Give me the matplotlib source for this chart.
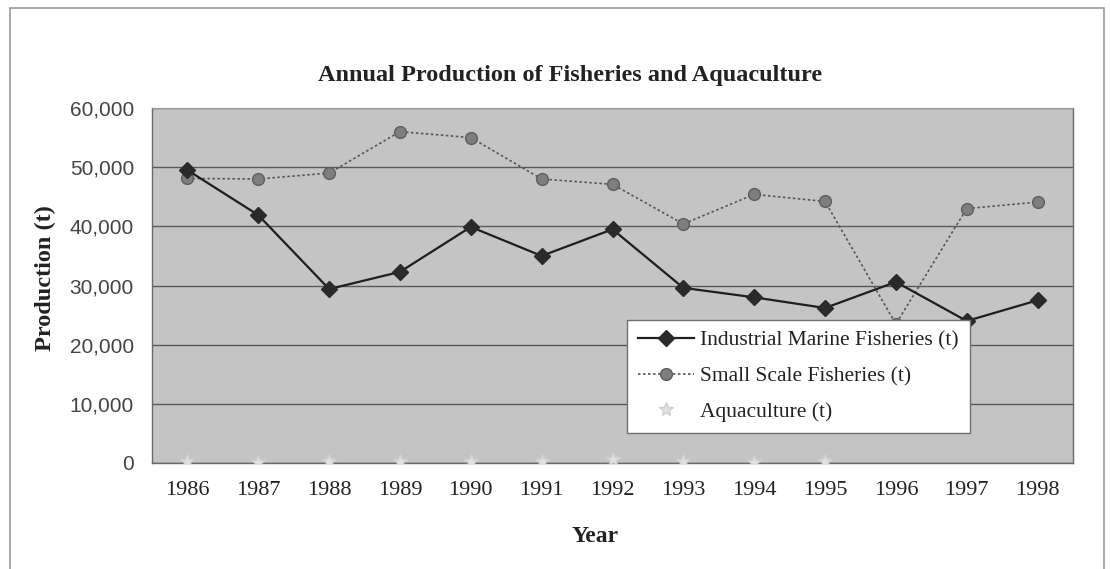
import matplotlib
matplotlib.use("Agg")
import matplotlib.pyplot as plt
import numpy as np
from matplotlib.patches import Rectangle
from matplotlib.ticker import FuncFormatter

years = [1986, 1987, 1988, 1989, 1990, 1991, 1992, 1993, 1994, 1995, 1996, 1997, 1998]
industrial = [49500, 41900, 29400, 32300, 39900, 35000, 39500, 29600, 28000, 26200, 30600, 24000, 27500]
small_scale = [48100, 48000, 49000, 56000, 55000, 48000, 47100, 40400, 45400, 44200, 23500, 43000, 44100]
aquaculture = [300, 200, 300, 400, 400, 300, 600, 300, 200, 300, np.nan, np.nan, np.nan]

serif = "Liberation Serif"

fig = plt.figure(figsize=(11.10, 5.69), dpi=100)
fig.patches.append(Rectangle((10/1110, -0.05), 1094/1110, 1 - 8/569 + 0.05,
                             transform=fig.transFigure, fill=False,
                             edgecolor="#9a9a9a", linewidth=1.2))
ax = fig.add_axes([152/1110, (569-463)/569, 921/1110, 355/569])
ax.set_facecolor("#c4c4c4")
x = np.arange(len(years))

ax.set_xlim(-0.5, len(years) - 0.5)
ax.set_ylim(0, 60000)
ax.set_yticks(np.arange(0, 60001, 10000))
ax.yaxis.set_major_formatter(FuncFormatter(lambda v, p: f"{int(v):,}"))
ax.set_xticks(x)
ax.set_xticklabels([str(y) for y in years])
ax.grid(axis="y", color="#5a5a5a", linewidth=1.0)
ax.set_axisbelow(True)
ax.spines["top"].set_color("#9a9a9a")
ax.spines["top"].set_linestyle((0, (1, 1)))
for s in ["left", "right", "bottom"]:
    ax.spines[s].set_color("#6a6a6a")
    ax.spines[s].set_linewidth(1.0)
ax.tick_params(axis="both", length=0)
ax.tick_params(axis="x", pad=13)
ax.tick_params(axis="y", pad=13)
for lab in ax.get_xticklabels():
    lab.set_fontfamily(serif)
    lab.set_fontsize(16)
    lab.set_color("#222222")
for lab in ax.get_yticklabels():
    lab.set_fontfamily("Liberation Sans")
    lab.set_fontsize(15)
    lab.set_color("#444444")

ax.plot(x, industrial, color="#1e1e1e", linewidth=1.6, marker="D", markersize=8,
        markerfacecolor="#2a2a2a", markeredgecolor="#2a2a2a",
        label="Industrial Marine Fisheries (t)", zorder=4)
ax.plot(x, small_scale, color="#555555", linewidth=1.2, linestyle=(0, (1.5, 1.5)),
        marker="o", markersize=8.5, markerfacecolor="#7e7e7e", markeredgecolor="#5e5e5e",
        label="Small Scale Fisheries (t)", zorder=3)
ax.plot(x, aquaculture, color="#e6e6e6", linewidth=1.0, marker="*", markersize=10,
        markerfacecolor="#e0e0e0", markeredgecolor="#d0d0d0", linestyle="none",
        label="Aquaculture (t)", zorder=3)

leg = ax.legend(loc="upper left", bbox_to_anchor=(0.516, 0.403), borderaxespad=0,
                frameon=True, fancybox=False, framealpha=1, edgecolor="#707070",
                prop={"family": serif, "size": 15.5}, handlelength=2.6,
                labelspacing=0.72, borderpad=0.5, handletextpad=0.3)
leg.get_frame().set_linewidth(1.0)
for t in leg.get_texts():
    t.set_color("#222222")

fig.text(570/1110, 1 - 75/569, "Annual Production of Fisheries and Aquaculture",
         ha="center", va="center", fontfamily=serif, fontweight="bold", fontsize=17.5,
         color="#222222")
fig.text(45/1110, 1 - 278/569, "Production (t)", rotation=90, ha="center", va="center",
         fontfamily=serif, fontweight="bold", fontsize=17.5, color="#222222")
fig.text(595/1110, 1 - 536/569, "Year", ha="center", va="center",
         fontfamily=serif, fontweight="bold", fontsize=17, color="#222222")

fig.savefig("out.png", dpi=100)
